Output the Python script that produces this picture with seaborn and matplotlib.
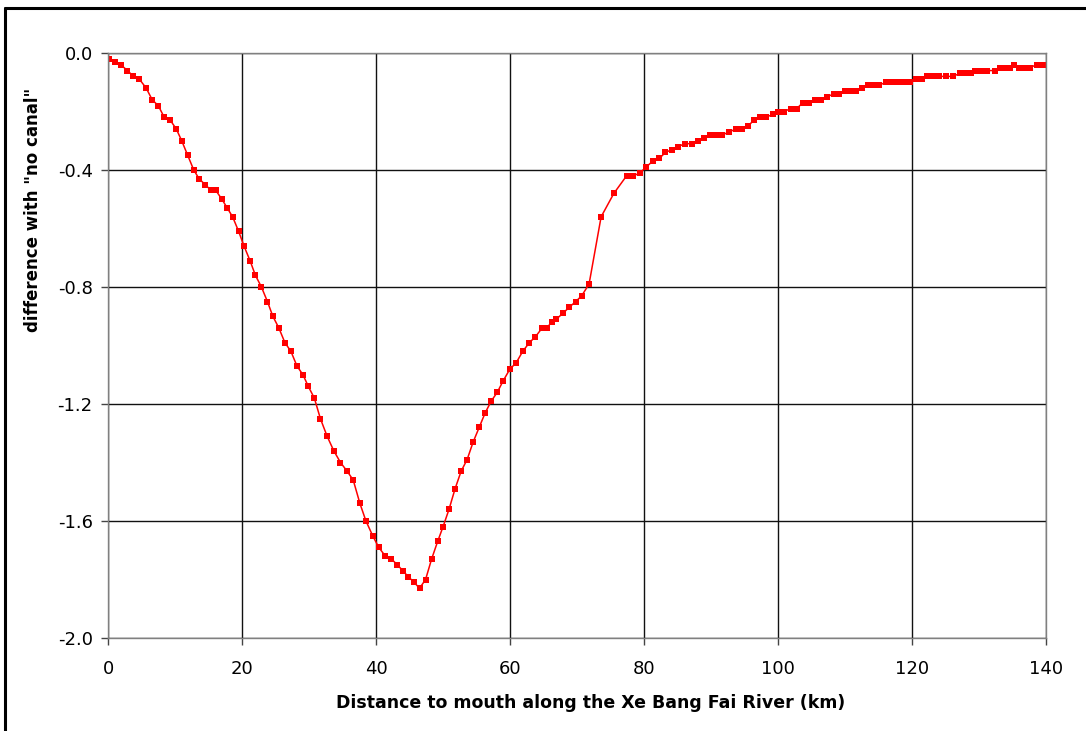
import matplotlib
matplotlib.use("Agg")
import matplotlib.pyplot as plt
import seaborn as sns
import pandas as pd
from matplotlib.lines import Line2D

# ---- data ----
distance_km = [
    0.1, 1.0, 1.9, 2.9, 3.8, 4.7, 5.7, 6.6, 7.5, 8.4,
    9.3, 10.2, 11.0, 11.9, 12.8, 13.6, 14.5, 15.4, 16.1, 17.0,
    17.8, 18.6, 19.5, 20.3, 21.2, 22.0, 22.9, 23.8, 24.6, 25.5,
    26.4, 27.3, 28.2, 29.1, 29.9, 30.8, 31.7, 32.7, 33.7, 34.7,
    35.7, 36.6, 37.6, 38.5, 39.5, 40.4, 41.4, 42.3, 43.2, 44.0,
    44.8, 45.7, 46.5, 47.4, 48.3, 49.2, 50.0, 50.9, 51.8, 52.7,
    53.6, 54.5, 55.4, 56.3, 57.2, 58.1, 59.0, 60.0, 60.9, 61.9,
    62.9, 63.8, 64.8, 65.5, 66.2, 66.9, 67.9, 68.8, 69.8, 70.7,
    71.8, 73.6, 75.5, 77.4, 78.4, 79.4, 80.3, 81.3, 82.3, 83.2,
    84.2, 85.1, 86.1, 87.1, 88.0, 89.0, 89.9, 90.8, 91.7, 92.7,
    93.7, 94.6, 95.5, 96.4, 97.3, 98.2, 99.2, 100.0, 100.9, 101.9,
    102.8, 103.7, 104.6, 105.5, 106.4, 107.3, 108.3, 109.1, 110.0, 110.9,
    111.7, 112.6, 113.5, 114.4, 115.1, 116.1, 117.0, 117.9, 118.8, 119.7,
    120.6, 121.5, 122.3, 123.2, 124.1, 125.1, 126.1, 127.1, 128.0, 128.8,
    129.4, 130.3, 131.2, 132.4, 133.1, 134.0, 134.7, 135.2, 135.9, 136.7,
    137.6, 138.6, 139.3, 139.8,
]
difference = [
    -0.02, -0.03, -0.04, -0.06, -0.08, -0.09, -0.12, -0.16, -0.18, -0.22,
    -0.23, -0.26, -0.30, -0.35, -0.40, -0.43, -0.45, -0.47, -0.47, -0.50,
    -0.53, -0.56, -0.61, -0.66, -0.71, -0.76, -0.80, -0.85, -0.90, -0.94,
    -0.99, -1.02, -1.07, -1.10, -1.14, -1.18, -1.25, -1.31, -1.36, -1.40,
    -1.43, -1.46, -1.54, -1.60, -1.65, -1.69, -1.72, -1.73, -1.75, -1.77,
    -1.79, -1.81, -1.83, -1.80, -1.73, -1.67, -1.62, -1.56, -1.49, -1.43,
    -1.39, -1.33, -1.28, -1.23, -1.19, -1.16, -1.12, -1.08, -1.06, -1.02,
    -0.99, -0.97, -0.94, -0.94, -0.92, -0.91, -0.89, -0.87, -0.85, -0.83,
    -0.79, -0.56, -0.48, -0.42, -0.42, -0.41, -0.39, -0.37, -0.36, -0.34,
    -0.33, -0.32, -0.31, -0.31, -0.30, -0.29, -0.28, -0.28, -0.28, -0.27,
    -0.26, -0.26, -0.25, -0.23, -0.22, -0.22, -0.21, -0.20, -0.20, -0.19,
    -0.19, -0.17, -0.17, -0.16, -0.16, -0.15, -0.14, -0.14, -0.13, -0.13,
    -0.13, -0.12, -0.11, -0.11, -0.11, -0.10, -0.10, -0.10, -0.10, -0.10,
    -0.09, -0.09, -0.08, -0.08, -0.08, -0.08, -0.08, -0.07, -0.07, -0.07,
    -0.06, -0.06, -0.06, -0.06, -0.05, -0.05, -0.05, -0.04, -0.05, -0.05,
    -0.05, -0.04, -0.04, -0.04,
]
x_ticks = [0, 20, 40, 60, 80, 100, 120, 140]
y_ticks = [0.0, -0.4, -0.8, -1.2, -1.6, -2.0]
y_tick_labels = ["0.0", "-0.4", "-0.8", "-1.2", "-1.6", "-2.0"]
x_label = "Distance to mouth along the Xe Bang Fai River (km)"
y_label = 'difference with "no canal"'

df = pd.DataFrame({"distance": distance_km, "difference": difference})

sns.set_theme(style="white")
plt.rcParams["font.family"] = ["DejaVu Sans"]

W, H = 1086, 731
fig = plt.figure(figsize=(W / 100, H / 100), dpi=100)
ax = fig.add_axes([108 / W, 1 - 638 / H, (1046 - 108) / W, (638 - 53) / H])

sns.lineplot(data=df, x="distance", y="difference", ax=ax, color="#ff0000",
             linewidth=1.1, marker="s", markersize=4.6, markeredgewidth=0,
             estimator=None, sort=False)

ax.set_xlim(0, 140)
ax.set_ylim(-2.0, 0.0)
ax.set_xticks(x_ticks)
ax.set_xticklabels([str(t) for t in x_ticks])
ax.set_yticks(y_ticks)
ax.set_yticklabels(y_tick_labels)
ax.grid(True, color="#111111", linewidth=1.0)
ax.set_axisbelow(True)
for s in ["top", "right", "left", "bottom"]:
    ax.spines[s].set_color("#808080")
    ax.spines[s].set_linewidth(1.0)

ax.tick_params(axis="both", which="major", direction="out", length=5,
               width=1, color="#444444", labelsize=13, labelcolor="black",
               left=True, bottom=True)
ax.tick_params(axis="y", pad=6)
ax.tick_params(axis="x", pad=11)

ax.set_xlabel(x_label, fontsize=12.5, fontweight="bold", va="center", color="black")
ax.set_ylabel(y_label, fontsize=12, fontweight="bold", va="center", color="black")
ax.xaxis.set_label_coords((591 - 108) / 938, (638 - 703) / 585)
ax.yaxis.set_label_coords((33 - 108) / 938, (638 - 210) / 585)

# outer chart frame (left and top edges visible)
fig.add_artist(Line2D([5 / W, 5 / W], [0, 1 - 7.5 / H], transform=fig.transFigure,
                      color="black", linewidth=2.2))
fig.add_artist(Line2D([5 / W, 1.0], [1 - 7.5 / H, 1 - 7.5 / H], transform=fig.transFigure,
                      color="black", linewidth=2.2))

fig.savefig("out.png", dpi=100, facecolor="white")
